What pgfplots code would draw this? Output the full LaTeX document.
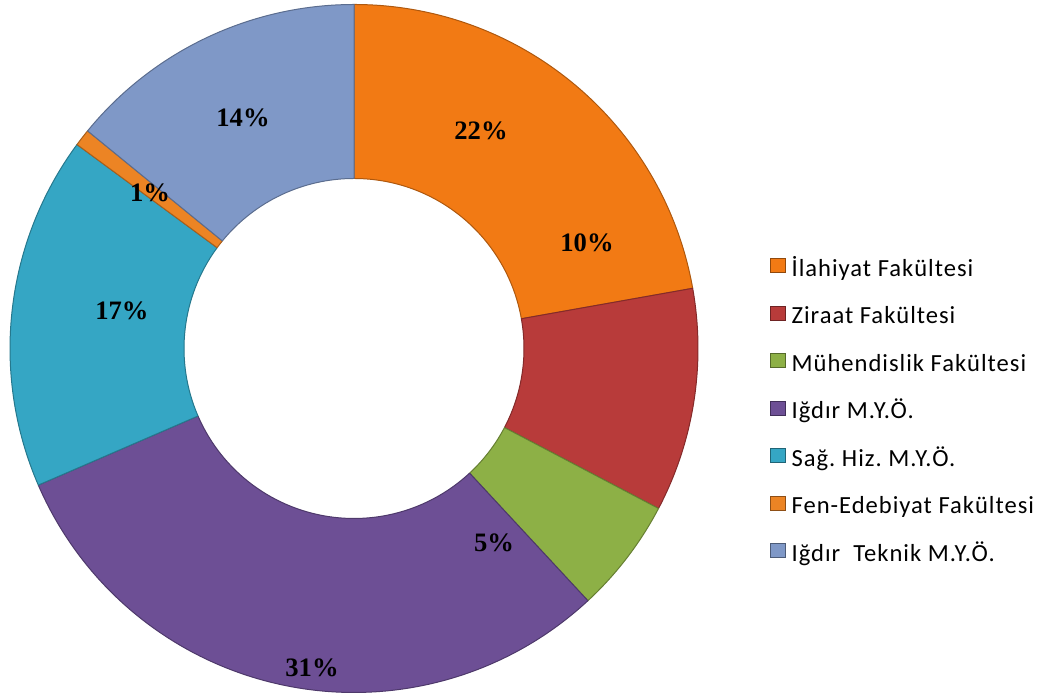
\documentclass[border=0pt]{standalone}
\usepackage{pgfplots}
\pgfplotsset{compat=1.18}
\usepackage{pgfplotstable}
\usepackage{fontspec}
\setmainfont{Liberation Serif}
\newfontfamily\legfont{Carlito}[LetterSpace=4]
\frenchspacing

\definecolor{c0}{HTML}{F27A14}
\definecolor{c1}{HTML}{B83B3A}
\definecolor{c2}{HTML}{8DB046}
\definecolor{c3}{HTML}{6D4F95}
\definecolor{c4}{HTML}{35A6C4}
\definecolor{c5}{HTML}{EC8424}
\definecolor{c6}{HTML}{7F98C7}

% value = share in percent; lx, ly = label position (pixels from left / top); pct = printed label
\pgfplotstableread{
idx value lx ly pct
0 22.2 481 131 22
1 10.5 587 243 10
2 5.4 494 543 5
3 30.4 312 668 31
4 16.6 122 311 17
5 0.8 150 193 1
6 14.1 243 118 14
}\piedata

\def\cum{90}%
\pgfplotsforeachungrouped \i in {0,...,6}{%
  \pgfplotstablegetelem{\i}{value}\of\piedata
  \pgfmathsetmacro\en{\cum-3.6*\pgfplotsretval}%
  \expandafter\xdef\csname st\i\endcsname{\cum}%
  \expandafter\xdef\csname en\i\endcsname{\en}%
  \xdef\cum{\en}%
  \pgfplotstablegetelem{\i}{lx}\of\piedata
  \expandafter\xdef\csname lx\i\endcsname{\pgfplotsretval}%
  \pgfplotstablegetelem{\i}{ly}\of\piedata
  \pgfmathsetmacro\tmp{694-\pgfplotsretval}%
  \expandafter\xdef\csname ly\i\endcsname{\tmp}%
  \pgfplotstablegetelem{\i}{pct}\of\piedata
  \expandafter\xdef\csname pc\i\endcsname{\pgfplotsretval}%
}%

\begin{document}%
\begin{tikzpicture}%
\begin{axis}[
  hide axis, scale only axis,
  x=0.5pt, y=0.5pt,
  xmin=0, xmax=1040, ymin=0, ymax=694,
  clip=false,
  legend style={
    draw=none, fill=none, inner sep=0pt, outer sep=0pt,
    at={(axis description cs:0.7400,0.6282)}, anchor=north west,
    font=\legfont\fontsize{12.3}{14}\selectfont,
    row sep=11.65pt, column sep=2.9pt,
    nodes={inner sep=0pt, text height=8pt, text depth=3pt},
  },
  legend cell align=left,
  legend image code/.code={\fill[#1] (0pt,-0.6pt) rectangle (7.7pt,6.4pt);},
]
\coordinate (bbBL) at (axis cs:0,0);
\coordinate (bbTR) at (axis cs:1040,694);

\pgfplotsinvokeforeach{0,...,6}{%
  \edef\temp{\noexpand\fill[c#1, draw=c#1!72!black, line width=0.5pt, line join=round]
    (axis cs:354,345.5) ++(\csname st#1\endcsname:172pt)
    arc[start angle=\csname st#1\endcsname, end angle=\csname en#1\endcsname, radius=172pt]
    -- ++(\csname en#1\endcsname+180:87pt)
    arc[start angle=\csname en#1\endcsname, end angle=\csname st#1\endcsname, radius=85pt]
    -- cycle;}\temp
}
\pgfplotsinvokeforeach{0,...,6}{%
  \edef\temp{\noexpand\node[font=\noexpand\bfseries\noexpand\fontsize{13.3}{15}\noexpand\selectfont]
    at (axis cs:\csname lx#1\endcsname,\csname ly#1\endcsname) {\csname pc#1\endcsname\noexpand\%};}\temp
}

\addlegendimage{fill=c0, draw=c0!60!black, line width=0.4pt}
\addlegendentry{İlahiyat Fakültesi}
\addlegendimage{fill=c1, draw=c1!60!black, line width=0.4pt}
\addlegendentry{Ziraat Fakültesi}
\addlegendimage{fill=c2, draw=c2!60!black, line width=0.4pt}
\addlegendentry{Mühendislik Fakültesi}
\addlegendimage{fill=c3, draw=c3!60!black, line width=0.4pt}
\addlegendentry{Iğdır M.Y.Ö.}
\addlegendimage{fill=c4, draw=c4!60!black, line width=0.4pt}
\addlegendentry{Sağ. Hiz. M.Y.Ö.}
\addlegendimage{fill=c5, draw=c5!60!black, line width=0.4pt}
\addlegendentry{Fen-Edebiyat Fakültesi}
\addlegendimage{fill=c6, draw=c6!60!black, line width=0.4pt}
\addlegendentry{Iğdır\ \ Teknik M.Y.Ö.}
\end{axis}
\pgfresetboundingbox
\path (bbBL) rectangle (bbTR);
\end{tikzpicture}%
\end{document}
